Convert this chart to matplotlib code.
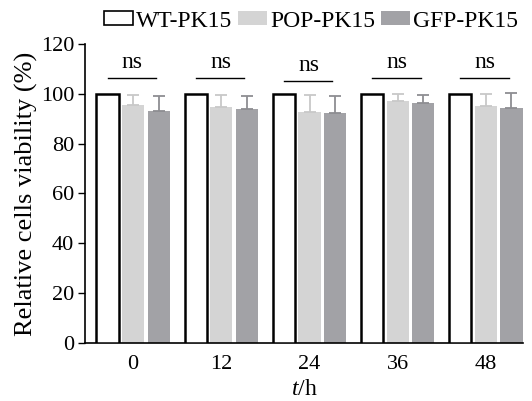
import matplotlib
matplotlib.use("Agg")
import matplotlib.pyplot as plt
import numpy as np
from matplotlib.patches import Patch

plt.rcParams['font.family'] = ['Liberation Serif', 'DejaVu Serif']
plt.rcParams['mathtext.fontset'] = 'custom'
plt.rcParams['mathtext.it'] = 'Liberation Serif:italic'
plt.rcParams['mathtext.rm'] = 'Liberation Serif'

times = ['0', '12', '24', '36', '48']
series = ['WT-PK15', 'POP-PK15', 'GFP-PK15']
wt = [100, 100, 100, 100, 100]
pop = [95.6, 94.8, 92.6, 97.3, 95.3]
gfp = [93.3, 94.1, 92.4, 96.2, 94.4]
pop_err = [4.1, 4.8, 7.0, 2.7, 4.7]
gfp_err = [6.0, 5.2, 6.8, 3.4, 6.1]
ns_labels = ['ns', 'ns', 'ns', 'ns', 'ns']
ns_y = [106.5, 106.5, 105.3, 106.5, 106.5]

fig = plt.figure(figsize=(5.32, 4.01), dpi=100)
ax = fig.add_axes([0.160, 0.145, 0.823, 0.745])

x = np.arange(len(times))
w = 0.25
off = 0.29
ax.bar(x - off, wt, w, facecolor='white', edgecolor='black', linewidth=1.8, zorder=3)
ax.bar(x, pop, w, color='#d4d4d4', zorder=2,
       yerr=[np.zeros(5), pop_err], ecolor='#c8c8c8', capsize=4, error_kw=dict(elinewidth=1.3, capthick=1.3))
ax.bar(x + off, gfp, w, color='#a2a2a6', zorder=2,
       yerr=[np.zeros(5), gfp_err], ecolor='#8e8e92', capsize=4, error_kw=dict(elinewidth=1.3, capthick=1.3))

for i in range(len(times)):
    ax.plot([x[i] - off, x[i] + off - 0.03], [ns_y[i], ns_y[i]], color='black', lw=1.0)
    ax.text(x[i] - 0.01, ns_y[i] + 1.8, ns_labels[i], ha='center', va='bottom', fontsize=17)

ax.set_xlim(-0.544, 4.42)
ax.set_ylim(0, 120)
ax.set_yticks([0, 20, 40, 60, 80, 100, 120])
ax.set_xticks(x)
ax.set_xticklabels(times)
ax.tick_params(axis='x', length=0, labelsize=16, pad=9)
ax.tick_params(axis='y', length=5, width=1, labelsize=16, direction='out', pad=3)
for s in ['top', 'right']:
    ax.spines[s].set_visible(False)
for s in ['left', 'bottom']:
    ax.spines[s].set_linewidth(1.2)
ax.set_ylabel('Relative cells viability (%)', fontsize=19, labelpad=2)
ax.set_xlabel(r'$\mathit{t}$/h', fontsize=17, labelpad=3)

handles = [Patch(facecolor='white', edgecolor='black', linewidth=1.2),
           Patch(facecolor='#d4d4d4'), Patch(facecolor='#a2a2a6')]
fig.legend(handles, series, loc='upper center', bbox_to_anchor=(0.585, 1.015), ncol=3,
           frameon=False, fontsize=17, handlelength=1.23, handleheight=0.5,
           handletextpad=0.13, columnspacing=0.25, borderpad=0.2)

fig.savefig('out.png', dpi=100)
